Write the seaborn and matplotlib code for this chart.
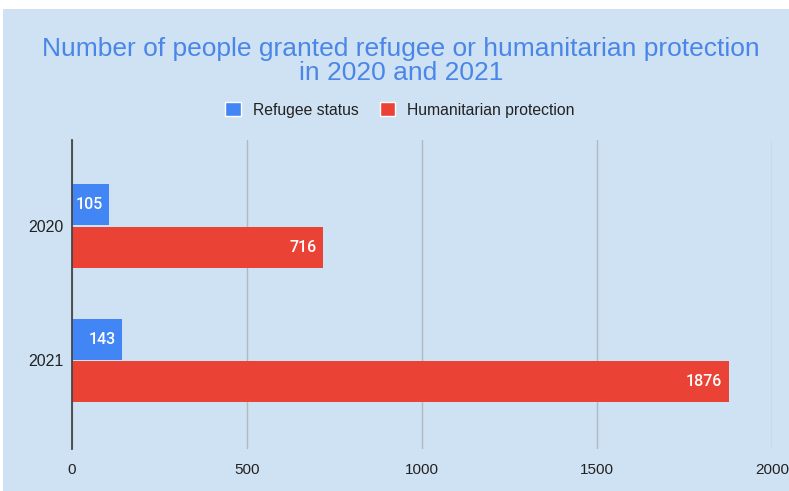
import matplotlib
matplotlib.use("Agg")
import matplotlib.pyplot as plt
import seaborn as sns
import pandas as pd
from matplotlib.patches import Rectangle

years = ["2020", "2021"]
series_names = ["Refugee status", "Humanitarian protection"]
refugee_status = [105, 143]
humanitarian_protection = [716, 1876]
x_ticks = [0, 500, 1000, 1500, 2000]
title = "Number of people granted refugee or humanitarian protection\nin 2020 and 2021"

BG = "#cfe2f3"
BLUE = "#4285f4"
RED = "#ea4335"

df = pd.DataFrame({
    "Year": years * 2,
    "Series": [series_names[0]] * 2 + [series_names[1]] * 2,
    "Value": refugee_status + humanitarian_protection,
})

sns.set_theme(style="white")
plt.rcParams['font.family'] = ['Liberation Sans', 'DejaVu Sans']

fig = plt.figure(figsize=(7.89, 4.91), dpi=100, facecolor="white")
fig.patches.append(Rectangle((3 / 789, 0), 1, 1 - 9 / 491, transform=fig.transFigure,
                             facecolor=BG, edgecolor="none", zorder=-10))
ax = fig.add_axes([72 / 789, 1 - 449 / 491, (772 - 72) / 789, (449 - 140) / 491])
ax.set_facecolor(BG)

sns.barplot(data=df, x="Value", y="Year", hue="Series", order=years, hue_order=series_names,
            palette=[BLUE, RED], orient="h", width=0.63, gap=0.03, ax=ax, legend=False,
            saturation=1, edgecolor="none", zorder=3)

ax.set_xlim(0, 2000)
ax.set_ylim(1.66, -0.64)
ax.set_xticks(x_ticks)
ax.set_xticklabels([str(t) for t in x_ticks], fontsize=11, color="#222222")
ax.tick_params(axis="x", length=0, pad=10)
ax.tick_params(axis="y", length=0, pad=6, labelsize=11.5, labelcolor="#222222")
ax.set_xlabel("")
ax.set_ylabel("")
ax.grid(axis="x", color="#b0b8c0", linewidth=1, zorder=0)
for s in ["top", "right", "bottom"]:
    ax.spines[s].set_visible(False)
ax.spines["left"].set_color("#444444")
ax.spines["left"].set_linewidth(1.3)
ax.spines["left"].set_zorder(5)

for container in ax.containers:
    for patch, v in zip(container.patches, container.datavalues):
        x_end = patch.get_x() + patch.get_width()
        y_mid = patch.get_y() + patch.get_height() / 2
        ax.annotate(f"{int(v)}", (x_end, y_mid), xytext=(-4.5, 0), textcoords="offset points",
                    ha="right", va="center", color="white", fontsize=11.5,
                    family=["Roboto", "DejaVu Sans"], weight="medium", zorder=6)

fig.text(0.508, 1 - 61 / 491, title, ha="center", va="center", color="#4a86e8",
         fontsize=19, linespacing=1.05)

handles = [Rectangle((0, 0), 1, 1, facecolor=BLUE), Rectangle((0, 0), 1, 1, facecolor=RED)]
fig.legend(handles, series_names, loc="center", bbox_to_anchor=(0.507, 1 - 110 / 491),
           ncol=2, frameon=False, fontsize=11.3, handlelength=1.0, handleheight=1.0,
           handletextpad=0.75, columnspacing=1.35, labelcolor="#222222")

fig.savefig("out.png", dpi=100, facecolor="white")
